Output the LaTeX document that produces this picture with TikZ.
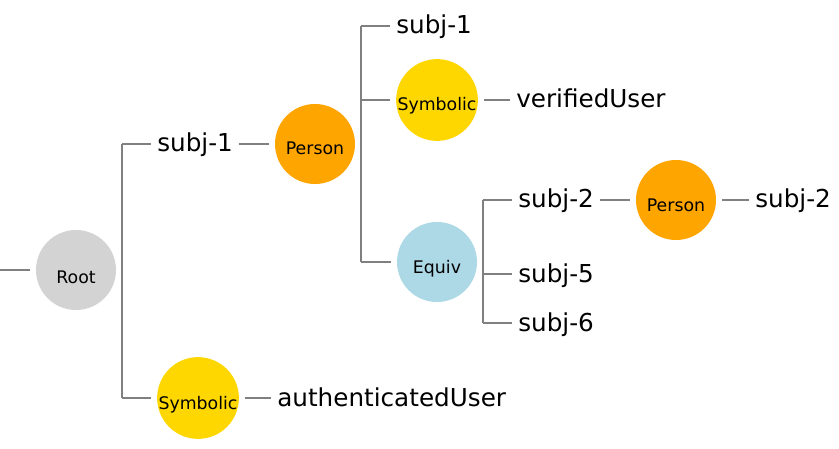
\documentclass[tikz,border=0pt]{standalone}
\usepackage{fontspec}
\setmainfont{DejaVu Sans}
\definecolor{rootgray}{RGB}{211,211,211}
\definecolor{personorange}{RGB}{255,165,0}
\definecolor{symgold}{RGB}{255,215,0}
\definecolor{equivblue}{RGB}{173,216,230}
\definecolor{linegray}{RGB}{128,128,128}
\begin{document}
\begin{tikzpicture}[x=0.75pt,y=-0.75pt,
  conn/.style={draw=linegray, line width=1.5pt},
  ball/.style={circle, inner sep=0pt, minimum size=60pt, font=\fontsize{13}{15}\selectfont, text height=16.5pt, text depth=0pt},
  lbl/.style={anchor=west, inner sep=0pt, font=\fontsize{18.5}{22}\selectfont, text height=14pt, text depth=2pt},
  gapend/.style={shorten >=4.5pt},
  gapstart/.style={shorten <=4.5pt}]
\useasboundingbox (0,0) rectangle (839,449);
% circles
\node[ball, fill=rootgray, text height=19.5pt] (root) at (76,270) {Root};
\node[ball, fill=personorange] (p1) at (315,144) {Person};
\node[ball, fill=symgold] (sym1) at (437,100) {Symbolic};
\node[ball, fill=equivblue] (eq) at (437,262) {Equiv};
\node[ball, fill=personorange] (p2) at (676,200) {Person};
\node[ball, fill=symgold] (sym2) at (198,398) {Symbolic};
% texts
\node[lbl] (s1) at (157,144) {subj-1};
\node[lbl] (s1b) at (396,26) {subj-1};
\node[lbl] (vu) at (516,100) {verifiedUser};
\node[lbl] (s2) at (518,200) {subj-2};
\node[lbl] (s2b) at (755,200) {subj-2};
\node[lbl] (s5) at (518,274) {subj-5};
\node[lbl] (s6) at (518,323) {subj-6};
\node[lbl] (au) at (277,398) {authenticatedUser};
% bracket coordinates
\coordinate (in) at (0,270);
\coordinate (rb) at ([xshift=4.5pt]root.east);
\coordinate (pb) at ([xshift=4.5pt]p1.east);
\coordinate (eb) at ([xshift=4.5pt]eq.east);
% connectors
\draw[conn, gapend] (in) -- (root);
\draw[conn] (rb |- s1.west) -- (rb |- sym2.center);
\draw[conn, gapend] (rb |- s1.west) -- (s1.west);
\draw[conn, gapend] (rb |- sym2.center) -- (sym2);
\draw[conn, gapstart, gapend] (s1.east) -- (p1);
\draw[conn, gapstart, gapend] (sym2) -- (au.west);
\draw[conn] (pb |- s1b.west) -- (pb |- eq.center);
\draw[conn, gapend] (pb |- s1b.west) -- (s1b.west);
\draw[conn, gapend] (pb |- sym1.center) -- (sym1);
\draw[conn, gapend] (pb |- eq.center) -- (eq);
\draw[conn, gapstart, gapend] (sym1) -- (vu.west);
\draw[conn] (eb |- s2.west) -- (eb |- s6.west);
\draw[conn, gapend] (eb |- s2.west) -- (s2.west);
\draw[conn, gapend] (eb |- s5.west) -- (s5.west);
\draw[conn, gapend] (eb |- s6.west) -- (s6.west);
\draw[conn, gapstart, gapend] (s2.east) -- (p2);
\draw[conn, gapstart, gapend] (p2) -- (s2b.west);
\end{tikzpicture}
\end{document}
